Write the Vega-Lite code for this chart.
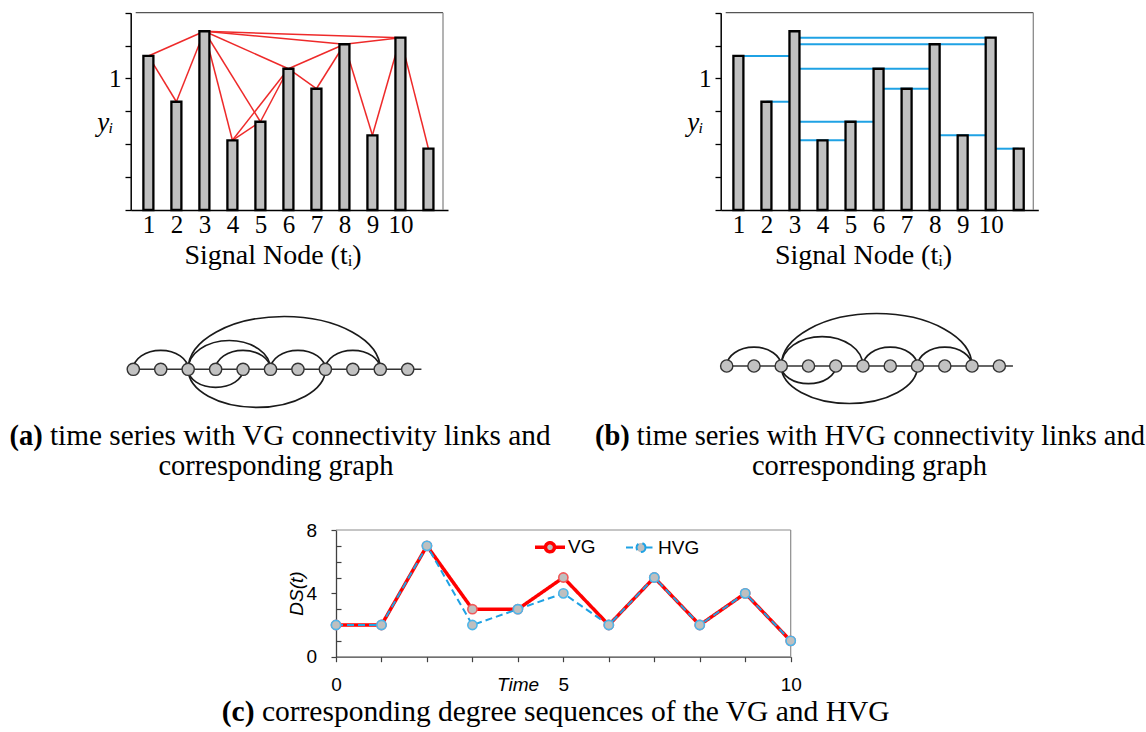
{
  "$schema": "https://vega.github.io/schema/vega-lite/v6.json",
  "width": 1146,
  "height": 732,
  "autosize": {"type": "none"},
  "padding": 0,
  "background": "#ffffff",
  "config": {
    "view": {"stroke": null},
    "axis": {"grid": false, "labelColor": "#000000", "titleColor": "#000000", "titleFontWeight": "normal", "labelFlush": false, "labelOverlap": false, "labelBound": false}
  },
  "datasets": {
    "bars": [
      {"t": 1, "v": 1.171}, {"t": 2, "v": 0.823}, {"t": 3, "v": 1.359}, {"t": 4, "v": 0.530},
      {"t": 5, "v": 0.671}, {"t": 6, "v": 1.074}, {"t": 7, "v": 0.922}, {"t": 8, "v": 1.260},
      {"t": 9, "v": 0.568}, {"t": 10, "v": 1.310}, {"t": 11, "v": 0.466}
    ],
    "vg_links": [
      {"a": 1, "b": 2}, {"a": 1, "b": 3}, {"a": 2, "b": 3}, {"a": 3, "b": 4}, {"a": 3, "b": 5},
      {"a": 3, "b": 6}, {"a": 3, "b": 8}, {"a": 3, "b": 10}, {"a": 4, "b": 5}, {"a": 4, "b": 6},
      {"a": 5, "b": 6}, {"a": 6, "b": 7}, {"a": 6, "b": 8}, {"a": 7, "b": 8}, {"a": 8, "b": 9},
      {"a": 8, "b": 10}, {"a": 9, "b": 10}, {"a": 10, "b": 11}
    ],
    "hvg_links": [
      {"a": 1, "b": 3, "h": 1}, {"a": 2, "b": 3, "h": 2}, {"a": 3, "b": 5, "h": 4},
      {"a": 3, "b": 6, "h": 5}, {"a": 3, "b": 8, "h": 6}, {"a": 6, "b": 8, "h": 7},
      {"a": 3, "b": 10, "h": 8}, {"a": 3, "b": 10, "h": 10}, {"a": 8, "b": 10, "h": 9},
      {"a": 10, "b": 11, "h": 11}
    ],
    "arcs": [
      {"g": "VG", "a": 1, "span": 2, "side": "up"}, {"g": "VG", "a": 3, "span": 3, "side": "up"},
      {"g": "VG", "a": 3, "span": 7, "side": "up"}, {"g": "VG", "a": 4, "span": 2, "side": "up"},
      {"g": "VG", "a": 6, "span": 2, "side": "up"}, {"g": "VG", "a": 8, "span": 2, "side": "up"},
      {"g": "VG", "a": 3, "span": 2, "side": "down"}, {"g": "VG", "a": 3, "span": 5, "side": "down"},
      {"g": "HVG", "a": 1, "span": 2, "side": "up"}, {"g": "HVG", "a": 3, "span": 3, "side": "up"},
      {"g": "HVG", "a": 3, "span": 7, "side": "up"}, {"g": "HVG", "a": 6, "span": 2, "side": "up"},
      {"g": "HVG", "a": 8, "span": 2, "side": "up"},
      {"g": "HVG", "a": 3, "span": 2, "side": "down"}, {"g": "HVG", "a": 3, "span": 5, "side": "down"}
    ],
    "degrees": [
      {"t": 0, "g": "VG", "d": 2}, {"t": 1, "g": "VG", "d": 2}, {"t": 2, "g": "VG", "d": 7},
      {"t": 3, "g": "VG", "d": 3}, {"t": 4, "g": "VG", "d": 3}, {"t": 5, "g": "VG", "d": 5},
      {"t": 6, "g": "VG", "d": 2}, {"t": 7, "g": "VG", "d": 5}, {"t": 8, "g": "VG", "d": 2},
      {"t": 9, "g": "VG", "d": 4}, {"t": 10, "g": "VG", "d": 1},
      {"t": 0, "g": "HVG", "d": 2}, {"t": 1, "g": "HVG", "d": 2}, {"t": 2, "g": "HVG", "d": 7},
      {"t": 3, "g": "HVG", "d": 2}, {"t": 4, "g": "HVG", "d": 3}, {"t": 5, "g": "HVG", "d": 4},
      {"t": 6, "g": "HVG", "d": 2}, {"t": 7, "g": "HVG", "d": 5}, {"t": 8, "g": "HVG", "d": 2},
      {"t": 9, "g": "HVG", "d": 4}, {"t": 10, "g": "HVG", "d": 1}
    ],
    "guides": [{"kind": "top"}, {"kind": "right"}, {"kind": "base"}],
    "captions": [
      {"id": "a-tag", "text": "(a)"},
      {"id": "a-1", "text": "time series with VG connectivity links and"},
      {"id": "a-2", "text": "corresponding graph"},
      {"id": "b-tag", "text": "(b)"},
      {"id": "b-1", "text": "time series with HVG connectivity links and"},
      {"id": "b-2", "text": "corresponding graph"},
      {"id": "c-tag", "text": "(c)"},
      {"id": "c-1", "text": "corresponding degree sequences of the VG and HVG"}
    ]
  },
  "layer": [
    {
      "layer": [
        {
          "data": {"name": "vg_links"},
          "transform": [
            {"lookup": "a", "from": {"data": {"name": "bars"}, "key": "t", "fields": ["v"]}, "as": ["va"]},
            {"lookup": "b", "from": {"data": {"name": "bars"}, "key": "t", "fields": ["v"]}, "as": ["vb"]}
          ],
          "mark": {"type": "rule", "color": "#ee2a2a", "strokeWidth": 1.5},
          "encoding": {
            "x": {"field": "a", "type": "quantitative", "axis": null},
            "x2": {"field": "b"},
            "y": {"field": "va", "type": "quantitative", "axis": null},
            "y2": {"field": "vb"}
          }
        },
        {
          "data": {"name": "guides"},
          "transform": [{"filter": "datum.kind === 'top'"}],
          "mark": {"type": "rule", "color": "#555555", "strokeWidth": 1.3},
          "encoding": {
            "x": {"datum": 0.547, "type": "quantitative", "axis": null},
            "x2": {"datum": 11.52},
            "y": {"datum": 1.5, "type": "quantitative", "axis": null}
          }
        },
        {
          "data": {"name": "guides"},
          "transform": [{"filter": "datum.kind === 'right'"}],
          "mark": {"type": "rule", "color": "#8a8a8a", "strokeWidth": 1.3},
          "encoding": {
            "x": {"datum": 11.52, "type": "quantitative", "axis": null},
            "y": {"datum": 0, "type": "quantitative", "axis": null},
            "y2": {"datum": 1.5}
          }
        },
        {
          "data": {"name": "bars"},
          "mark": {"type": "bar", "orient": "vertical", "width": 10, "fill": "#c0c0c0", "stroke": "#000000", "strokeWidth": 2.3},
          "encoding": {
            "x": {
              "field": "t", "type": "quantitative",
              "scale": {"domain": [0.547, 11.52], "range": [130.7, 448], "nice": false, "zero": false},
              "axis": {
                "orient": "bottom", "offset": -522, "values": [1, 2, 3, 4, 5, 6, 7, 8, 9, 10],
                "ticks": false, "tickSize": 0, "domainColor": "#000000", "domainWidth": 1.5,
                "labelFont": "Liberation Serif", "labelFontSize": 25, "labelPadding": 2,
                "title": "Signal Node (tᵢ)", "titleFont": "Liberation Serif", "titleFontSize": 28,
                "titleX": 272.5, "titleY": 53.3, "titleAlign": "center", "titleBaseline": "alphabetic"
              }
            },
            "y": {
              "field": "v", "type": "quantitative",
              "scale": {"domain": [0, 1.5], "range": [210, 12.7], "nice": false, "zero": false},
              "axis": {
                "orient": "left", "offset": -130.7, "values": [0, 0.25, 0.5, 0.75, 1, 1.25, 1.5],
                "labelExpr": "datum.value === 1 ? '1' : ''",
                "tickSize": 5.7, "tickWidth": 1.3, "tickColor": "#000000",
                "domainColor": "#000000", "domainWidth": 1.5,
                "labelFont": "Liberation Serif", "labelFontSize": 25, "labelPadding": 4,
                "title": "yᵢ", "titleFont": "Liberation Serif", "titleFontSize": 27, "titleFontStyle": "italic",
                "titleAngle": 0, "titleAlign": "right", "titleBaseline": "alphabetic", "titleX": -17.7, "titleY": 130
              }
            }
          }
        }
      ],
      "resolve": {"axis": {"x": "independent", "y": "independent"}}
    },
    {
      "layer": [
        {
          "data": {"name": "hvg_links"},
          "transform": [
            {"lookup": "h", "from": {"data": {"name": "bars"}, "key": "t", "fields": ["v"]}, "as": ["vh"]}
          ],
          "mark": {"type": "rule", "color": "#1fa2e4", "strokeWidth": 2},
          "encoding": {
            "x": {"field": "a", "type": "quantitative", "axis": null},
            "x2": {"field": "b"},
            "y": {"field": "vh", "type": "quantitative", "axis": null}
          }
        },
        {
          "data": {"name": "guides"},
          "transform": [{"filter": "datum.kind === 'top'"}],
          "mark": {"type": "rule", "color": "#555555", "strokeWidth": 1.3},
          "encoding": {
            "x": {"datum": 0.547, "type": "quantitative", "axis": null},
            "x2": {"datum": 11.52},
            "y": {"datum": 1.5, "type": "quantitative", "axis": null}
          }
        },
        {
          "data": {"name": "guides"},
          "transform": [{"filter": "datum.kind === 'right'"}],
          "mark": {"type": "rule", "color": "#8a8a8a", "strokeWidth": 1.3},
          "encoding": {
            "x": {"datum": 11.52, "type": "quantitative", "axis": null},
            "y": {"datum": 0, "type": "quantitative", "axis": null},
            "y2": {"datum": 1.5}
          }
        },
        {
          "data": {"name": "bars"},
          "mark": {"type": "bar", "orient": "vertical", "width": 10, "fill": "#c0c0c0", "stroke": "#000000", "strokeWidth": 2.3},
          "encoding": {
            "x": {
              "field": "t", "type": "quantitative",
              "scale": {"domain": [0.547, 11.52], "range": [720.7, 1038.3], "nice": false, "zero": false},
              "axis": {
                "orient": "bottom", "offset": -522, "values": [1, 2, 3, 4, 5, 6, 7, 8, 9, 10],
                "ticks": false, "tickSize": 0, "domainColor": "#000000", "domainWidth": 1.5,
                "labelFont": "Liberation Serif", "labelFontSize": 25, "labelPadding": 2,
                "title": "Signal Node (tᵢ)", "titleFont": "Liberation Serif", "titleFontSize": 28,
                "titleX": 863, "titleY": 53.3, "titleAlign": "center", "titleBaseline": "alphabetic"
              }
            },
            "y": {
              "field": "v", "type": "quantitative",
              "scale": {"domain": [0, 1.5], "range": [210, 12.7], "nice": false, "zero": false},
              "axis": {
                "orient": "left", "offset": -720.7, "values": [0, 0.25, 0.5, 0.75, 1, 1.25, 1.5],
                "labelExpr": "datum.value === 1 ? '1' : ''",
                "tickSize": 5.7, "tickWidth": 1.3, "tickColor": "#000000",
                "domainColor": "#000000", "domainWidth": 1.5,
                "labelFont": "Liberation Serif", "labelFontSize": 25, "labelPadding": 4,
                "title": "yᵢ", "titleFont": "Liberation Serif", "titleFontSize": 27, "titleFontStyle": "italic",
                "titleAngle": 0, "titleAlign": "right", "titleBaseline": "alphabetic", "titleX": -17.7, "titleY": 130
              }
            }
          }
        }
      ],
      "resolve": {"axis": {"x": "independent", "y": "independent"}}
    },
    {
      "layer": [
        {
          "data": {"name": "guides"},
          "transform": [{"filter": "datum.kind === 'base'"}],
          "mark": {"type": "rule", "color": "#333333", "strokeWidth": 1.5},
          "encoding": {
            "x": {"datum": 1, "type": "quantitative", "axis": null},
            "x2": {"datum": 11.5},
            "y": {"datum": 0, "type": "quantitative", "axis": null}
          }
        },
        {
          "data": {"name": "arcs"},
          "transform": [{"filter": "datum.g === 'VG' && datum.side === 'up'"}],
          "mark": {"type": "point", "filled": false, "stroke": "#1a1a1a", "strokeWidth": 1.7, "opacity": 1},
          "encoding": {
            "x": {"field": "a", "type": "quantitative", "axis": null},
            "y": {"datum": 0, "type": "quantitative", "axis": null},
            "shape": {"field": "span", "type": "nominal", "legend": null,
              "scale": {"domain": [2, 3, 7], "range": ["M0,0A1,0.69 0 0 1 2,0", "M0,0A1,0.70 0 0 1 2,0", "M0,0A1,0.55 0 0 1 2,0"]}},
            "size": {"field": "span", "type": "quantitative", "legend": null,
              "scale": {"type": "pow", "exponent": 2, "domain": [0, 10], "range": [0, 75295], "nice": false}}
          }
        },
        {
          "data": {"name": "arcs"},
          "transform": [{"filter": "datum.g === 'VG' && datum.side === 'down'"}],
          "mark": {"type": "point", "filled": false, "stroke": "#1a1a1a", "strokeWidth": 1.7, "opacity": 1},
          "encoding": {
            "x": {"field": "a", "type": "quantitative", "axis": null},
            "y": {"datum": 0, "type": "quantitative", "axis": null},
            "shape": {"field": "span", "type": "nominal", "legend": null,
              "scale": {"domain": [2, 5], "range": ["M0,0A1,0.66 0 0 0 2,0", "M0,0A1,0.555 0 0 0 2,0"]}},
            "size": {"field": "span", "type": "quantitative", "legend": null,
              "scale": {"type": "pow", "exponent": 2, "domain": [0, 10], "range": [0, 75295], "nice": false}}
          }
        },
        {
          "data": {"name": "bars"},
          "mark": {"type": "point", "shape": "circle", "filled": true, "fill": "#c2c2c2", "stroke": "#333333", "strokeWidth": 1.4, "size": 150, "opacity": 1},
          "encoding": {
            "x": {"field": "t", "type": "quantitative", "axis": null,
              "scale": {"domain": [1, 11], "range": [133.3, 407.7], "nice": false, "zero": false}},
            "y": {"datum": 0, "type": "quantitative", "axis": null,
              "scale": {"domain": [-1, 1], "range": [379.3, 359.3], "nice": false, "zero": false}}
          }
        },
        {
          "data": {"name": "captions"},
          "transform": [{"filter": "datum.id === 'a-tag'"}],
          "mark": {"type": "text", "font": "Liberation Serif", "fontSize": 28.5, "fontWeight": "bold", "align": "right", "baseline": "alphabetic", "color": "#000000"},
          "encoding": {"text": {"field": "text"}, "x": {"datum": -2.3, "type": "quantitative", "axis": null}, "y": {"datum": -7.57, "type": "quantitative", "axis": null}}
        },
        {
          "data": {"name": "captions"},
          "transform": [{"filter": "datum.id === 'a-1'"}],
          "mark": {"type": "text", "font": "Liberation Serif", "fontSize": 29.3, "align": "left", "baseline": "alphabetic", "color": "#000000"},
          "encoding": {"text": {"field": "text"}, "x": {"datum": -2.04, "type": "quantitative", "axis": null}, "y": {"datum": -7.57, "type": "quantitative", "axis": null}}
        },
        {
          "data": {"name": "captions"},
          "transform": [{"filter": "datum.id === 'a-2'"}],
          "mark": {"type": "text", "font": "Liberation Serif", "fontSize": 28.5, "align": "center", "baseline": "alphabetic", "color": "#000000"},
          "encoding": {"text": {"field": "text"}, "x": {"datum": 6.2, "type": "quantitative", "axis": null}, "y": {"datum": -10.57, "type": "quantitative", "axis": null}}
        }
      ],
      "resolve": {"scale": {"shape": "independent"}}
    },
    {
      "layer": [
        {
          "data": {"name": "guides"},
          "transform": [{"filter": "datum.kind === 'base'"}],
          "mark": {"type": "rule", "color": "#333333", "strokeWidth": 1.5},
          "encoding": {
            "x": {"datum": 1, "type": "quantitative", "axis": null},
            "x2": {"datum": 11.5},
            "y": {"datum": 0, "type": "quantitative", "axis": null}
          }
        },
        {
          "data": {"name": "arcs"},
          "transform": [{"filter": "datum.g === 'HVG' && datum.side === 'up'"}],
          "mark": {"type": "point", "filled": false, "stroke": "#1a1a1a", "strokeWidth": 1.7, "opacity": 1},
          "encoding": {
            "x": {"field": "a", "type": "quantitative", "axis": null},
            "y": {"datum": 0, "type": "quantitative", "axis": null},
            "shape": {"field": "span", "type": "nominal", "legend": null,
              "scale": {"domain": [2, 3, 7], "range": ["M0,0A1,0.69 0 0 1 2,0", "M0,0A1,0.72 0 0 1 2,0", "M0,0A1,0.55 0 0 1 2,0"]}},
            "size": {"field": "span", "type": "quantitative", "legend": null,
              "scale": {"type": "pow", "exponent": 2, "domain": [0, 10], "range": [0, 74311], "nice": false}}
          }
        },
        {
          "data": {"name": "arcs"},
          "transform": [{"filter": "datum.g === 'HVG' && datum.side === 'down'"}],
          "mark": {"type": "point", "filled": false, "stroke": "#1a1a1a", "strokeWidth": 1.7, "opacity": 1},
          "encoding": {
            "x": {"field": "a", "type": "quantitative", "axis": null},
            "y": {"datum": 0, "type": "quantitative", "axis": null},
            "shape": {"field": "span", "type": "nominal", "legend": null,
              "scale": {"domain": [2, 5], "range": ["M0,0A1,0.65 0 0 0 2,0", "M0,0A1,0.55 0 0 0 2,0"]}},
            "size": {"field": "span", "type": "quantitative", "legend": null,
              "scale": {"type": "pow", "exponent": 2, "domain": [0, 10], "range": [0, 74311], "nice": false}}
          }
        },
        {
          "data": {"name": "bars"},
          "mark": {"type": "point", "shape": "circle", "filled": true, "fill": "#c2c2c2", "stroke": "#333333", "strokeWidth": 1.4, "size": 150, "opacity": 1},
          "encoding": {
            "x": {"field": "t", "type": "quantitative", "axis": null,
              "scale": {"domain": [1, 11], "range": [726.7, 999.3], "nice": false, "zero": false}},
            "y": {"datum": 0, "type": "quantitative", "axis": null,
              "scale": {"domain": [-1, 1], "range": [376, 356], "nice": false, "zero": false}}
          }
        },
        {
          "data": {"name": "captions"},
          "transform": [{"filter": "datum.id === 'b-tag'"}],
          "mark": {"type": "text", "font": "Liberation Serif", "fontSize": 28.5, "fontWeight": "bold", "align": "right", "baseline": "alphabetic", "color": "#000000"},
          "encoding": {"text": {"field": "text"}, "x": {"datum": -2.557, "type": "quantitative", "axis": null}, "y": {"datum": -7.9, "type": "quantitative", "axis": null}}
        },
        {
          "data": {"name": "captions"},
          "transform": [{"filter": "datum.id === 'b-1'"}],
          "mark": {"type": "text", "font": "Liberation Serif", "fontSize": 28.5, "align": "left", "baseline": "alphabetic", "color": "#000000"},
          "encoding": {"text": {"field": "text"}, "x": {"datum": -2.296, "type": "quantitative", "axis": null}, "y": {"datum": -7.9, "type": "quantitative", "axis": null}}
        },
        {
          "data": {"name": "captions"},
          "transform": [{"filter": "datum.id === 'b-2'"}],
          "mark": {"type": "text", "font": "Liberation Serif", "fontSize": 28.5, "align": "center", "baseline": "alphabetic", "color": "#000000"},
          "encoding": {"text": {"field": "text"}, "x": {"datum": 6.238, "type": "quantitative", "axis": null}, "y": {"datum": -10.9, "type": "quantitative", "axis": null}}
        }
      ],
      "resolve": {"scale": {"shape": "independent"}}
    },
    {
      "layer": [
        {
          "data": {"name": "guides"},
          "transform": [{"filter": "datum.kind === 'top'"}],
          "mark": {"type": "rule", "color": "#8c8c8c", "strokeWidth": 1.2},
          "encoding": {
            "x": {"datum": 0, "type": "quantitative", "axis": null},
            "x2": {"datum": 10},
            "y": {"datum": 8, "type": "quantitative", "axis": null}
          }
        },
        {
          "data": {"name": "guides"},
          "transform": [{"filter": "datum.kind === 'right'"}],
          "mark": {"type": "rule", "color": "#8c8c8c", "strokeWidth": 1.2},
          "encoding": {
            "x": {"datum": 10, "type": "quantitative", "axis": null},
            "y": {"datum": 0, "type": "quantitative", "axis": null},
            "y2": {"datum": 8}
          }
        },
        {
          "data": {"name": "degrees"},
          "mark": {"type": "line"},
          "encoding": {
            "x": {
              "field": "t", "type": "quantitative",
              "scale": {"domain": [0, 10], "range": [336, 790.7], "nice": false, "zero": false},
              "axis": {
                "orient": "bottom", "offset": -75.3, "values": [0, 1, 2, 3, 4, 5, 6, 7, 8, 9, 10],
                "labelExpr": "datum.value % 5 === 0 ? datum.label : ''",
                "tickSize": 5, "tickColor": "#404040", "tickWidth": 1.2,
                "domainColor": "#404040", "domainWidth": 1.3,
                "labelFont": "Liberation Sans", "labelFontSize": 19, "labelPadding": 13.6,
                "title": "Time", "titleFont": "Liberation Sans", "titleFontSize": 19, "titleFontStyle": "italic",
                "titleX": 517.5, "titleY": 33.3, "titleAlign": "center", "titleBaseline": "alphabetic"
              }
            },
            "y": {
              "field": "d", "type": "quantitative",
              "scale": {"domain": [0, 8], "range": [656.7, 530], "nice": false, "zero": false},
              "axis": {
                "orient": "left", "offset": -336, "values": [0, 4, 8],
                "tickSize": 5, "tickColor": "#404040", "tickWidth": 1.2,
                "domainColor": "#404040", "domainWidth": 1.3,
                "labelFont": "Liberation Sans", "labelFontSize": 19, "labelPadding": 14.3,
                "title": "DS(t)", "titleFont": "Liberation Sans", "titleFontSize": 19, "titleFontStyle": "italic",
                "titleAngle": 270, "titleX": -40, "titleY": 593, "titleAlign": "center", "titleBaseline": "middle"
              }
            },
            "color": {
              "field": "g", "type": "nominal",
              "scale": {"domain": ["VG", "HVG"], "range": ["#ff0000", "#1fa2e4"]},
              "legend": {
                "orient": "none", "legendX": 533, "legendY": 530, "direction": "horizontal", "title": null,
                "symbolType": "M-1,0L-0.3,0M0.3,0L1,0M0.3,0A0.3,0.3 0 1 1 -0.3,0A0.3,0.3 0 1 1 0.3,0Z",
                "symbolSize": 900, "symbolFillColor": "#bfbfbf",
                "labelFont": "Liberation Sans", "labelFontSize": 19, "labelColor": "#000000",
                "labelOffset": 1, "columnPadding": 26, "padding": 0
              }
            },
            "strokeDash": {
              "field": "g", "type": "nominal",
              "scale": {"domain": ["VG", "HVG"], "range": [[1, 0], [7, 4]]},
              "legend": {"orient": "none", "legendX": 533, "legendY": 530, "direction": "horizontal", "title": null}
            },
            "strokeWidth": {
              "field": "g", "type": "nominal",
              "scale": {"domain": ["VG", "HVG"], "range": [3.5, 2]},
              "legend": {"orient": "none", "legendX": 533, "legendY": 530, "direction": "horizontal", "title": null}
            }
          }
        },
        {
          "data": {"name": "degrees"},
          "transform": [{"filter": "datum.g === 'VG'"}],
          "mark": {"type": "point", "shape": "circle", "filled": true, "fill": "#bfbfbf", "stroke": "#f05a5a", "size": 85, "strokeWidth": 1.6, "opacity": 1},
          "encoding": {
            "x": {"field": "t", "type": "quantitative", "axis": null},
            "y": {
              "field": "d", "type": "quantitative",
              "axis": {"orient": "left", "offset": -341, "values": [1, 2, 3, 5, 6, 7], "tickSize": 5, "tickColor": "#404040", "tickWidth": 1.2, "domain": false, "labels": false, "title": null}
            }
          }
        },
        {
          "data": {"name": "degrees"},
          "transform": [{"filter": "datum.g === 'HVG'"}],
          "mark": {"type": "point", "shape": "circle", "filled": true, "fill": "#bfbfbf", "stroke": "#4db6ea", "size": 85, "strokeWidth": 1.6, "opacity": 1},
          "encoding": {
            "x": {"field": "t", "type": "quantitative", "axis": null},
            "y": {"field": "d", "type": "quantitative", "axis": null}
          }
        },
        {
          "data": {"name": "captions"},
          "transform": [{"filter": "datum.id === 'c-tag'"}],
          "mark": {"type": "text", "font": "Liberation Serif", "fontSize": 29.5, "fontWeight": "bold", "align": "right", "baseline": "alphabetic", "color": "#000000"},
          "encoding": {"text": {"field": "text"}, "x": {"datum": -1.792, "type": "quantitative", "axis": null}, "y": {"datum": -4.06, "type": "quantitative", "axis": null}}
        },
        {
          "data": {"name": "captions"},
          "transform": [{"filter": "datum.id === 'c-1'"}],
          "mark": {"type": "text", "font": "Liberation Serif", "fontSize": 29.5, "align": "left", "baseline": "alphabetic", "color": "#000000"},
          "encoding": {"text": {"field": "text"}, "x": {"datum": -1.63, "type": "quantitative", "axis": null}, "y": {"datum": -4.06, "type": "quantitative", "axis": null}}
        }
      ],
      "resolve": {"axis": {"x": "independent", "y": "independent"}}
    }
  ],
  "resolve": {
    "scale": {"x": "independent", "y": "independent", "size": "independent", "shape": "independent", "color": "independent", "strokeDash": "independent", "strokeWidth": "independent"},
    "axis": {"x": "independent", "y": "independent"}
  }
}
